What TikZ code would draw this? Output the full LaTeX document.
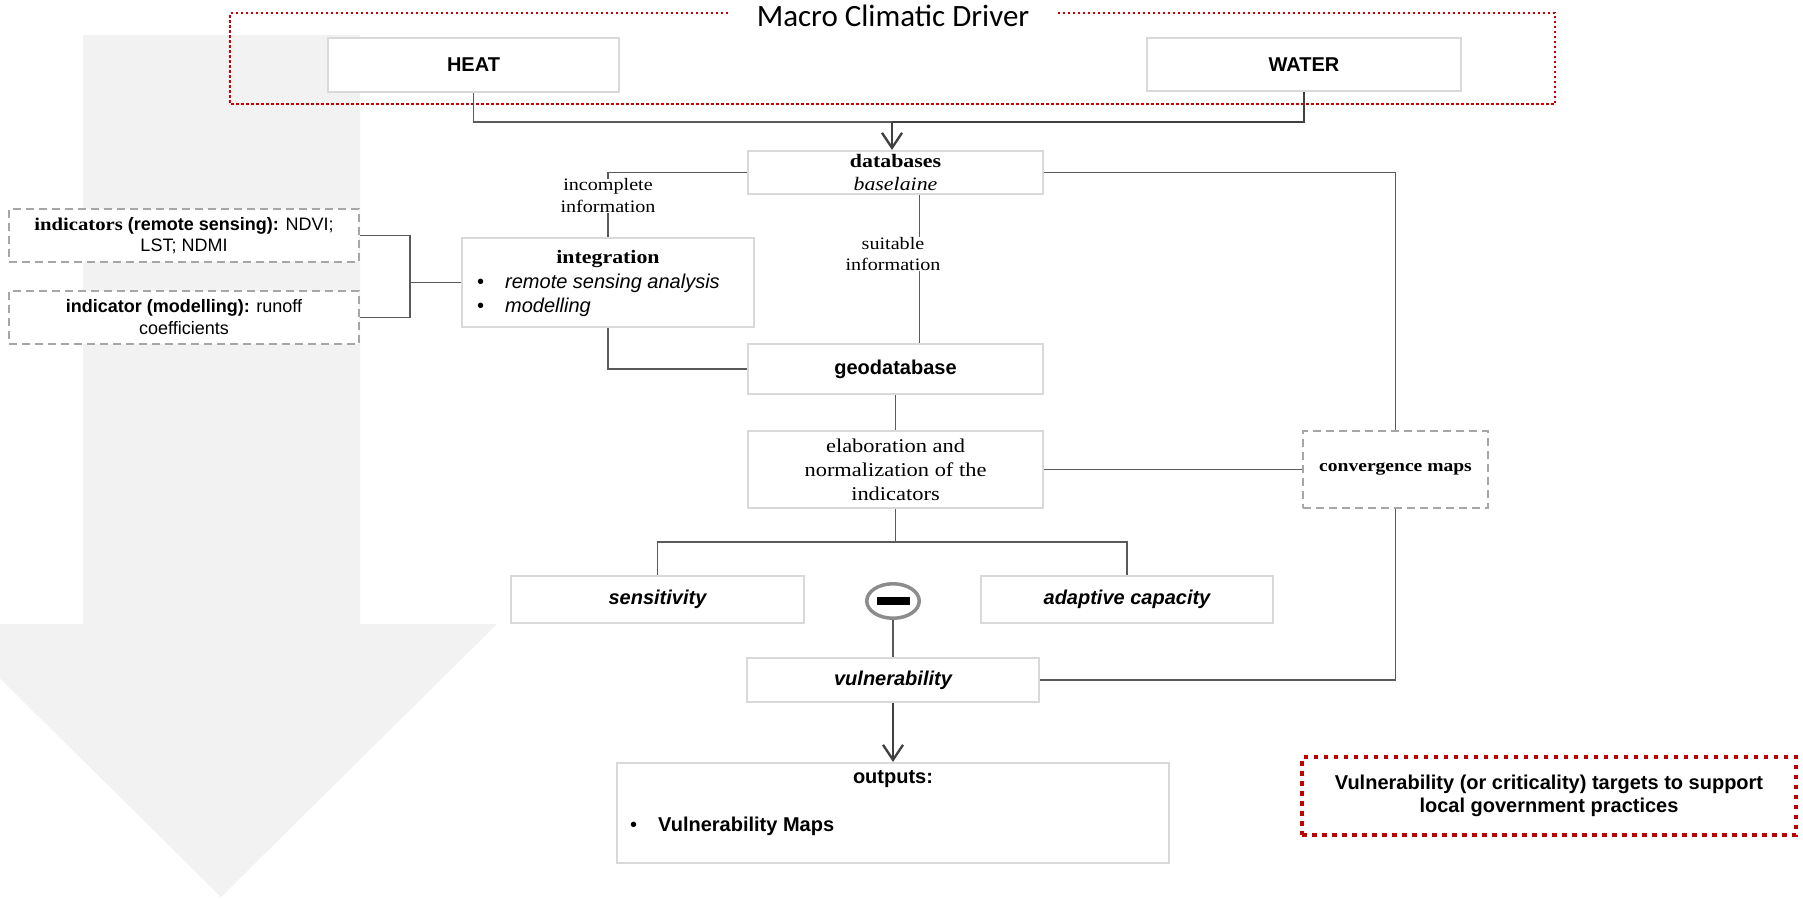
\documentclass[tikz,border=0pt]{standalone}
\usepackage{fontspec}
\usetikzlibrary{arrows.meta,calc,shapes.geometric}
\newfontfamily\serifF{Liberation Serif}[FakeStretch=1.15]
\newfontfamily\sansF{Liberation Sans}
\newfontfamily\calF{Carlito}
\newcommand\setfs[2]{\fontsize{#1}{#2}\selectfont}
\definecolor{boxgray}{HTML}{D9D9D9}
\definecolor{dashgray}{HTML}{A6A6A6}
\definecolor{conngray}{HTML}{5A5A5A}
\definecolor{arrgray}{HTML}{404040}
\definecolor{bigarrow}{HTML}{F2F2F2}
\definecolor{redtop}{HTML}{CC0000}
\definecolor{redbot}{HTML}{C00000}
\definecolor{mgray}{HTML}{8C8C8C}
\begin{document}
\begin{tikzpicture}[x=1pt,y=-1pt,
  box/.style={draw=boxgray, line width=2.2pt, fill=white, inner sep=0pt, align=center},
  dbox/.style={draw=dashgray, line width=1.8pt, dash pattern=on 8pt off 5pt, fill=white, inner sep=0pt, align=center},
  conn/.style={draw=conngray, line width=1.25pt},
  arr/.style={draw=arrgray, line width=2.3pt, -{Straight Barb[length=15pt,width=20pt]}},
  lbl/.style={inner sep=0pt, align=center},
  sansb/.style={font=\sansF\bfseries\setfs{20}{24}},
  sansbi/.style={font=\sansF\bfseries\itshape\setfs{20}{24}},
]
\useasboundingbox (0,0) rectangle (1803,898);
% big background arrow
\begin{scope}
\clip (0,0) rectangle (1803,898);
\fill[bigarrow] (83,35) -- (360,35) -- (360,624) -- (497,624) -- (221,897) -- (-55,624) -- (83,624) -- cycle;
\end{scope}
% red dotted frame of the climatic driver
\draw[redtop, line width=2.5pt, dash pattern=on 2.5pt off 2.5pt] (728,13) -- (230,13) -- (230,104) -- (1555,104) -- (1555,13) -- (1058,13);
\node[anchor=base, inner sep=0pt, font=\calF\setfs{31}{36}] (title) at (893,26) {Macro Climatic Driver};

% nodes
\node[box, sansb, minimum width=291pt, minimum height=54pt] (heat) at (473.5,65) {HEAT};
\node[box, sansb, minimum width=314pt, minimum height=53pt] (water) at (1304,64.5) {WATER};
\node[box, font=\serifF\setfs{19}{23.5}, minimum width=295pt, minimum height=43pt] (db) at (895.5,172.5) {\textbf{databases}\\\textit{baselaine}};
\node[box, minimum width=292pt, minimum height=89pt] (integ) at (608,282.5) {};
\node[anchor=base, inner sep=0pt, font=\serifF\bfseries\setfs{19}{24}] (integT) at (608,263) {integration};
\node[anchor=base west, inner sep=0pt, font=\sansF\itshape\setfs{20}{24}] (integA) at (477,288) {\makebox[28pt][l]{\upshape•}remote sensing analysis};
\node[anchor=base west, inner sep=0pt, font=\sansF\itshape\setfs{20}{24}] (integB) at (477,312) {\makebox[28pt][l]{\upshape•}modelling};
\node[dbox, font=\sansF\setfs{18}{21}, minimum width=350pt, minimum height=53pt] (ind1) at (184,235.5) {{\serifF\bfseries indicators}\textbf{ (remote sensing):} NDVI;\\LST; NDMI};
\node[dbox, font=\sansF\setfs{18}{22}, minimum width=350pt, minimum height=53pt] (ind2) at (184,317.5) {\textbf{indicator (modelling):} runoff\\coefficients};
\node[box, sansb, minimum width=295pt, minimum height=50pt] (geo) at (895.5,369) {geodatabase};
\node[box, font=\serifF\setfs{19.5}{24}, minimum width=295pt, minimum height=77pt] (elab) at (895.5,469.5) {elaboration and\\normalization of the\\indicators};
\node[dbox, font=\serifF\bfseries\setfs{17}{20}, minimum width=185pt, minimum height=77pt] (conv) at (1395.5,469.5) {convergence maps};
\node[box, sansbi, minimum width=293pt, minimum height=47pt] (sens) at (657.5,599.5) {sensitivity};
\node[box, sansbi, minimum width=292pt, minimum height=47pt] (adapt) at (1127,599.5) {adaptive capacity};
\node[ellipse, draw=mgray, line width=3.5pt, fill=white, minimum width=52.5pt, minimum height=34.5pt, inner sep=0pt] (minus) at (893,601) {\rule{33pt}{8pt}};
\node[box, sansbi, minimum width=292pt, minimum height=44pt] (vuln) at (893,680) {vulnerability};
\node[box, minimum width=552pt, minimum height=100pt] (out) at (893,813) {};
\node[lbl, sansb] (outT) at (893,779) {outputs:};
\node[anchor=west, inner sep=0pt, sansb] (outA) at (630,826) {\makebox[28pt][l]{\mdseries•}Vulnerability Maps};
\node[draw=redbot, line width=4.5pt, dash pattern=on 4.5pt off 5.5pt, inner sep=0pt, align=center, font=\sansF\bfseries\setfs{20}{23}, minimum width=494pt, minimum height=78pt] (target) at (1549,796) {Vulnerability (or criticality) targets to support\\local government practices};

% connectors
\coordinate (j) at (892,122);
\draw[conn] (heat.south) |- (j);
\draw[draw=arrgray, line width=2.6pt] (water.south) |- (j);
\draw[arr] (j) -- (db.north -| j);
\draw[conn] (db.west) -| (integ.north);
\draw[conn] ([xshift=24pt]db.south) -- ([xshift=24pt]geo.north);
\coordinate (brk) at (410,282.5);
\draw[conn] (ind1.east) -| (brk);
\draw[conn] (ind2.east) -| (brk);
\draw[conn] (brk) -- (integ.west);
\draw[conn] (integ.south) |- (geo.west);
\draw[conn] (db.east) -| (conv.north);
\draw[conn] (elab.east) -- (conv.west);
\draw[conn] (geo.south) -- (elab.north);
\coordinate (fork) at (895.5,542);
\draw[conn] (elab.south) -- (fork);
\draw[conn] (sens.north) |- (fork) -| (adapt.north);
\draw[conn] (minus.south) -- (vuln.north);
\draw[conn] (vuln.east) -| (conv.south);
\draw[arr] (vuln.south) -- (out.north);

% connector labels
\node[lbl, fill=white, font=\serifF\setfs{17.5}{22}] (incl) at (608,196) {incomplete\\information};
\node[lbl, fill=white, font=\serifF\setfs{17.5}{21}] (suit) at (893,254) {suitable\\information};
\end{tikzpicture}
\end{document}
